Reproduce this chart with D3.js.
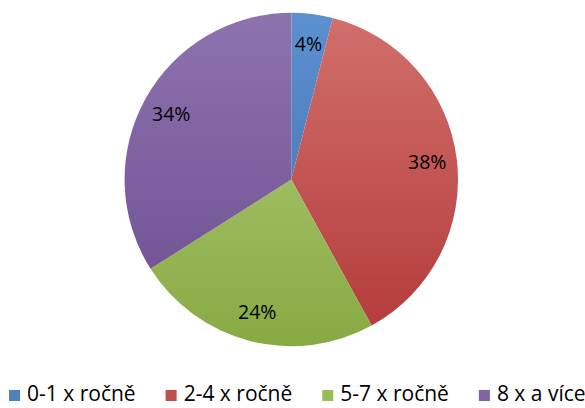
<!DOCTYPE html>
<html>
<head>
<meta charset="utf-8">
<script src="https://cdn.jsdelivr.net/npm/d3@7"></script>
<style>
  html, body { margin: 0; padding: 0; background: #fff; }
  svg { display: block; }
  text { font-family: "Open Sans", sans-serif; fill: #000; }
</style>
</head>
<body>
<svg id="chart" width="585" height="408"></svg>
<script>
const categories = ["0-1 x ročně", "2-4 x ročně", "5-7 x ročně", "8 x a více"];
const values = [4, 38, 24, 34];
const labels = ["4%", "38%", "24%", "34%"];
const colorsTop = ["#5d90d1", "#d1706c", "#b2cf7c", "#8d73ae"];
const colorsBottom = ["#3d6dab", "#b3393a", "#88aa43", "#6c4d90"];
const legendColors = ["#4f81bd", "#c0504d", "#9bbb59", "#8064a2"];

const W = 585, H = 408;
const cx = 291.3, cy = 179.5, R = 166.7;

const svg = d3.select("#chart");
const defs = svg.append("defs");

categories.forEach((c, i) => {
  const g = defs.append("linearGradient")
    .attr("id", "grad" + i)
    .attr("gradientUnits", "userSpaceOnUse")
    .attr("x1", 0).attr("x2", 0)
    .attr("y1", -R).attr("y2", R);
  g.append("stop").attr("offset", "0%").attr("stop-color", colorsTop[i]);
  g.append("stop").attr("offset", "100%").attr("stop-color", colorsBottom[i]);
});

const pie = d3.pie().sort(null).value(d => d)(values);
const arc = d3.arc().innerRadius(0).outerRadius(R);
const labelArc = d3.arc().innerRadius(137).outerRadius(137);

const gPie = svg.append("g").attr("transform", `translate(${cx},${cy})`);

gPie.selectAll("path.slice")
  .data(pie)
  .join("path")
  .attr("class", "slice")
  .attr("d", arc)
  .attr("fill", (d, i) => `url(#grad${i})`);

gPie.selectAll("text.lbl")
  .data(pie)
  .join("text")
  .attr("class", "lbl")
  .attr("transform", d => `translate(${labelArc.centroid(d)})`)
  .attr("text-anchor", "middle")
  .attr("dy", "0.36em")
  .style("font-size", "19.5px")
  .text((d, i) => labels[i]);

// legend
const legend = svg.append("g").attr("class", "legend");
let x = 9;
const sq = 11, baseY = 401, gap = 30;
categories.forEach((c, i) => {
  const item = legend.append("g");
  item.append("rect")
    .attr("x", x).attr("y", baseY - 11)
    .attr("width", sq).attr("height", sq)
    .attr("fill", legendColors[i]);
  const t = item.append("text")
    .attr("x", x + 18).attr("y", baseY)
    .style("font-size", "21px")
    .text(c);
  const w = t.node().getComputedTextLength();
  x = x + 18 + w + gap;
});
</script>
</body>
</html>
